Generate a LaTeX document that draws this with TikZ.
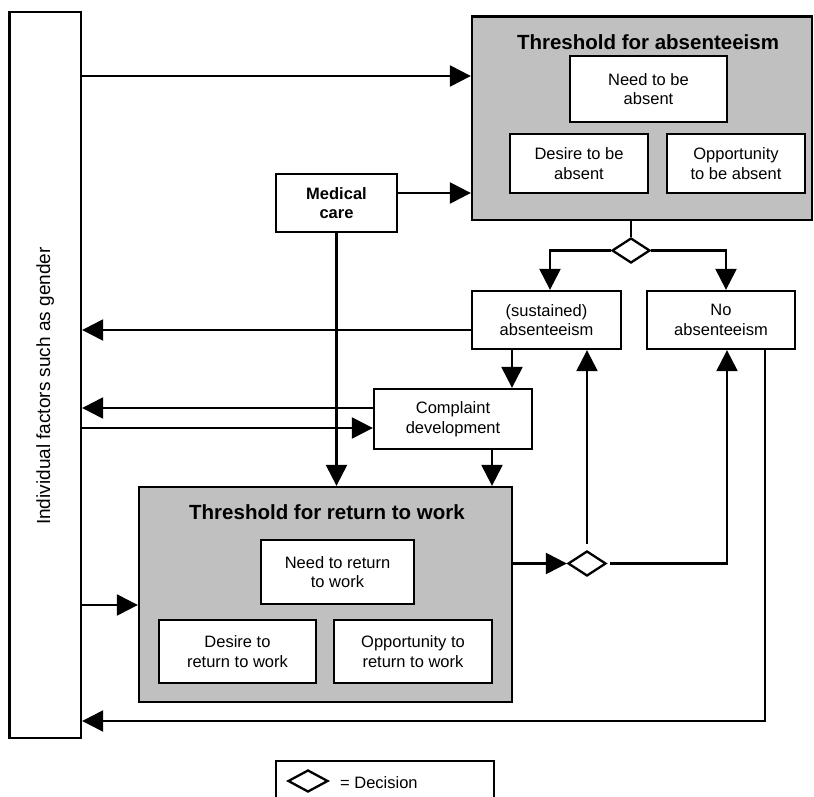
\documentclass[tikz,border=0pt]{standalone}
\usepackage{fontspec}
\setmainfont{Liberation Sans}
\usetikzlibrary{arrows.meta,shapes.geometric}
\newcommand\myBody{\fontsize{16.5}{19.5}\selectfont}
\newcommand\myTitle{\fontsize{20.5}{24}\selectfont\bfseries}
\begin{document}
\begin{tikzpicture}[x=1pt,y=-1pt,
  box/.style={draw, line width=2.3pt, fill=white, inner sep=0pt, align=center, font=\myBody},
  graybox/.style={draw, line width=2.3pt, fill=graybg, inner sep=0pt},
  dec/.style={draw, line width=2.3pt, fill=white, shape=diamond, inner sep=0pt, minimum width=38pt, minimum height=25pt},
  arr/.style={line width=2.3pt, -{Triangle[length=21pt,width=21pt]}},
  ln/.style={line width=2.3pt}]
\definecolor{graybg}{HTML}{C0C0C0}
\useasboundingbox (0,0) rectangle (814,797);
% left box
\node[box, minimum width=71.5pt, minimum height=726pt] (L) at (45.25,375) {};
\node[rotate=90, font=\fontsize{19}{22}\selectfont] (Llab) at (45.25,386) {Individual factors such as gender};
% threshold for absenteeism
\node[graybox, minimum width=340pt, minimum height=203.5pt] (A) at (642,118.25) {};
\node[font=\myTitle] (At) at (648,42) {Threshold for absenteeism};
\node[box, minimum width=157pt, minimum height=66pt] (An) at (648.5,89) {Need to be\\absent};
\node[box, minimum width=138pt, minimum height=59pt] (Ad) at (579,163.5) {Desire to be\\absent};
\node[box, minimum width=138pt, minimum height=59pt] (Ao) at (736,163.5) {Opportunity\\to be absent};
% medical care
\node[box, minimum width=121pt, minimum height=58pt, font=\myBody\bfseries] (M) at (336.5,203) {Medical\\care};
% decision 1
\node[dec] (D1) at (631,250.5) {};
% outcomes
\node[box, minimum width=149pt, minimum height=58pt] (S) at (546.5,320) {(sustained)\\absenteeism};
\node[box, minimum width=148pt, minimum height=58pt] (N) at (721,320) {No\\absenteeism};
% complaint
\node[box, minimum width=158pt, minimum height=60pt] (C) at (453,419) {Complaint\\development};
% threshold for return to work
\node[graybox, minimum width=373pt, minimum height=215pt] (B) at (325.5,594.5) {};
\node[font=\myTitle] (Bt) at (327,512) {Threshold for return to work};
\node[box, minimum width=153pt, minimum height=64pt] (Bn) at (337.5,572) {Need to return\\to work};
\node[box, minimum width=157pt, minimum height=63pt] (Bd) at (237.5,651.5) {Desire to\\return to work};
\node[box, minimum width=158pt, minimum height=63pt] (Bo) at (413,651.5) {Opportunity to\\return to work};
% decision 2
\node[dec] (D2) at (587,563.5) {};
% legend
\node[box, minimum width=218pt, minimum height=44pt] (Leg) at (385,783) {};
\node[dec, minimum width=40pt, minimum height=22pt] (LegD) at (308,781) {};
\node[font=\myBody, anchor=west, inner sep=0pt] (LegT) at (340,783) {= Decision};
% connectors
\draw[arr] (L.east |- 0,76) -- (A.west |- 0,76);
\draw[arr] (M.east |- 0,193) -- (A.west |- 0,193);
\draw[arr] (M.south) -- (B.north -| M.south);
\draw[ln] (D1.north |- A.south) -- (D1.north);
\draw[arr] (D1.west) -| ([xshift=3.5pt]S.north);
\draw[arr] (D1.east) -| ([xshift=5pt]N.north);
\draw[arr] (S.west |- 0,330) -- (L.east |- 0,330);
\draw[arr] ([xshift=-34.5pt]S.south) -- ([xshift=-34.5pt]S.south |- C.north);
\draw[arr] (C.west |- 0,408) -- (L.east |- 0,408);
\draw[arr] (L.east |- 0,428) -- (C.west |- 0,428);
\draw[arr] (C.south -| 492,0) -- (B.north -| 492,0);
\draw[arr] (L.east |- 0,605) -- (B.west |- 0,605);
\draw[arr] (B.east |- D2.west) -- (D2.west);
\draw[arr] ([yshift=6pt]D2.north) -- (S.south -| D2.north);
\draw[arr] ([xshift=3pt]D2.east) -| ([xshift=6pt]N.south);
\draw[arr] ([xshift=44pt]N.south) |- (L.east |- 0,721);
\end{tikzpicture}
\end{document}
